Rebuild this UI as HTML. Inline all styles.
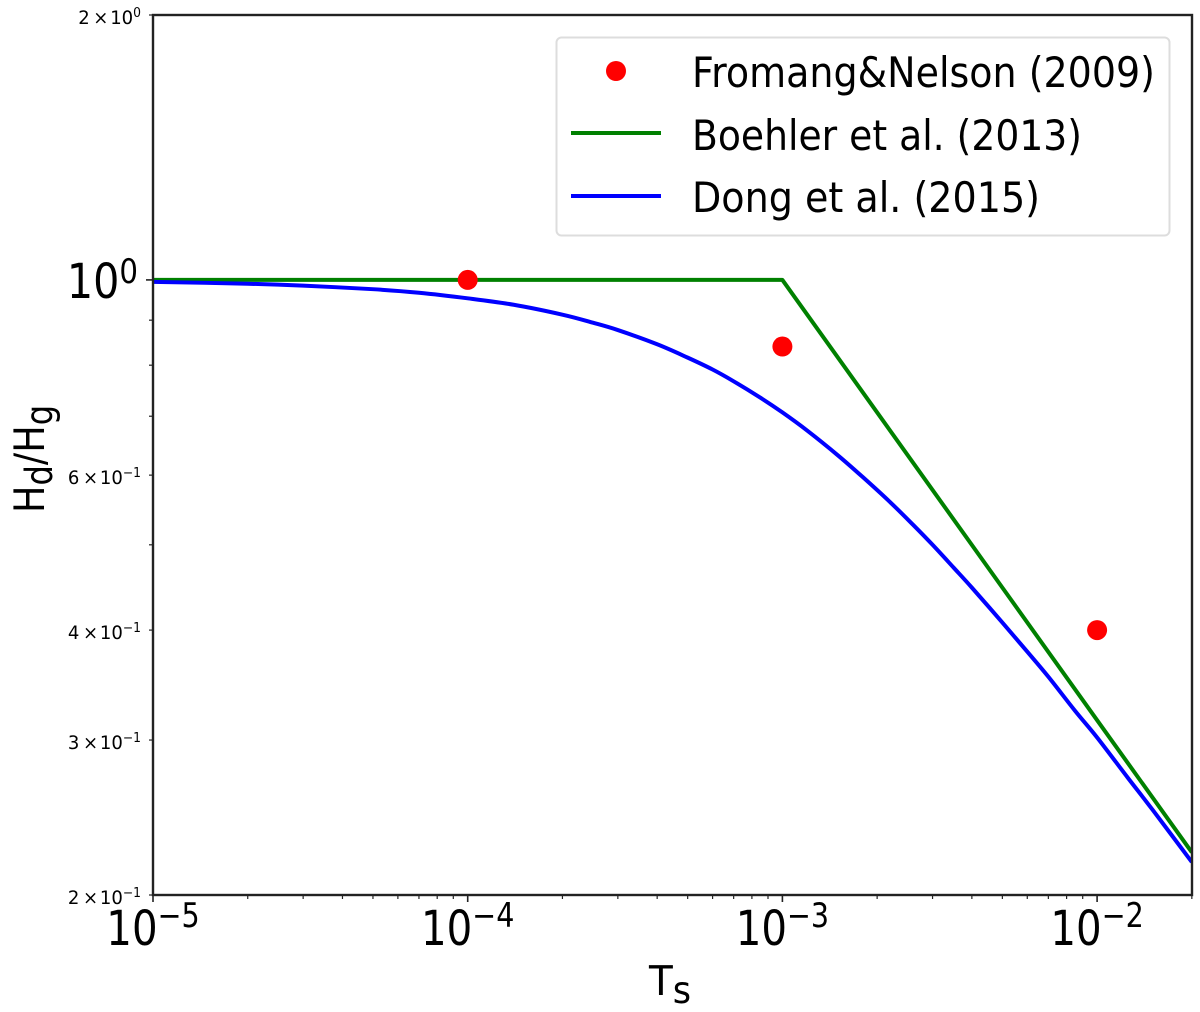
<!DOCTYPE html>
<html lang="en">
<head>
<meta charset="utf-8">
<title>Dust scale height ratio versus stopping time</title>
<style>
html,body{margin:0;padding:0;background:#fff;width:1200px;height:1012px;overflow:hidden}
svg{display:block}
text{font-family:"DejaVu Sans","Liberation Sans",sans-serif;fill:#000}
</style>
</head>
<body>
<svg id="chart" xmlns="http://www.w3.org/2000/svg" width="1200" height="1012" viewBox="0 0 1200 1012">
  <defs><clipPath id="plot-clip"><rect x="153" y="15" width="1039" height="880"/></clipPath></defs>
  <rect x="153" y="15" width="1039" height="880" fill="#fff"/>
  <g id="series-layer" clip-path="url(#plot-clip)"></g>
  <rect x="153" y="15" width="1039" height="880" fill="none" stroke="#222" stroke-width="2.4"/>
  <g id="tick-layer"></g>
  <g id="label-layer"></g>

  <text transform="translate(649 995) scale(.95 1)" font-size="41">T<tspan font-size="37" dy="8">s</tspan></text>
  <text transform="translate(44 513) rotate(-90) scale(.87 1)" font-size="42">H<tspan font-size="37" dy="8">d</tspan><tspan dy="-8">/H</tspan><tspan font-size="37" dy="8">g</tspan></text>

  <g>
    <rect x="556.5" y="37.5" width="613" height="198" rx="5" fill="#fff" fill-opacity=".9" stroke="#ddd" stroke-width="2"/>
    <circle cx="616" cy="71" r="10" fill="#ff0000"/>
    <text x="692" y="87" font-size="42" textLength="463" lengthAdjust="spacingAndGlyphs">Fromang&amp;Nelson (2009)</text>
    <line x1="571" x2="661" y1="133" y2="133" stroke="#008000" stroke-width="4"/>
    <text x="692" y="150" font-size="42" textLength="390" lengthAdjust="spacingAndGlyphs">Boehler et al. (2013)</text>
    <line x1="571" x2="661" y1="196" y2="196" stroke="#0000ff" stroke-width="4"/>
    <text x="692" y="212" font-size="42" textLength="348" lengthAdjust="spacingAndGlyphs">Dong et al. (2015)</text>
  </g>
</svg>
<script>
// Chart data
const fromangTs = [1e-4, 1e-3, 1e-2];
const fromangHeight = [1, 0.84, 0.4];
const boehlerTs = [1e-5, 1e-4, 1e-3, 2e-3, 5e-3, 1e-2, 2e-2];
const boehlerHeight = [1, 1, 1, 0.707, 0.447, 0.316, 0.2236];
const dongTs = [1e-5, 2e-5, 3e-5, 5e-5, 7e-5, 1e-4, 1.4e-4, 2e-4, 2.5e-4, 3e-4, 4e-4, 5e-4, 6e-4, 7e-4, 8.5e-4, 1e-3, 1.2e-3, 1.5e-3, 1.8e-3, 2.2e-3, 2.6e-3, 3e-3, 3.5e-3, 4e-3, 5e-3, 6e-3, 7e-3, 8.5e-3, 1e-2, 1.25e-2, 1.5e-2, 2e-2];
const dongHeight = [0.995, 0.990, 0.985, 0.976, 0.967, 0.953, 0.937, 0.913, 0.894, 0.877, 0.845, 0.816, 0.791, 0.767, 0.735, 0.707, 0.674, 0.632, 0.597, 0.559, 0.527, 0.5, 0.471, 0.447, 0.408, 0.378, 0.354, 0.324, 0.302, 0.272, 0.25, 0.218];
const xMajorExponents = [-5, -4, -3, -2];
const yMinorTicks = [0.9, 0.8, 0.7, 0.5];
const yLabelMantissas = [2, 6, 4, 3, 2];
const yLabelExponents = [0, -1, -1, -1, -1];
const yMajorLabelValue = 1;
const xLimits = [1e-5, 2e-2];
const yLimits = [0.2, 2];

const NS = 'http://www.w3.org/2000/svg';
const plot = {left: 153, right: 1192, top: 15, bottom: 895};
const xPixelsPerDecade = 314.7;
const xScale = v => plot.left + (Math.log10(v) - Math.log10(xLimits[0])) * xPixelsPerDecade;
const yScale = v => plot.bottom - (Math.log10(v) - Math.log10(yLimits[0])) / (Math.log10(yLimits[1]) - Math.log10(yLimits[0])) * (plot.bottom - plot.top);

const seriesLayer = document.getElementById('series-layer');
const tickLayer = document.getElementById('tick-layer');
const labelLayer = document.getElementById('label-layer');

function svgEl(tag, attrs, parent) {
  const el = document.createElementNS(NS, tag);
  for (const k in attrs) el.setAttribute(k, attrs[k]);
  parent.appendChild(el);
  return el;
}
function pathFrom(xs, ys) {
  return xs.map((x, i) => (i ? 'L' : 'M') + xScale(x).toFixed(2) + ' ' + yScale(ys[i]).toFixed(2)).join(' ');
}
// Smooth path through the data points (Catmull-Rom to Bezier)
function smoothPathFrom(xs, ys) {
  const pts = xs.map((x, i) => [xScale(x), yScale(ys[i])]);
  let d = 'M' + pts[0][0].toFixed(2) + ' ' + pts[0][1].toFixed(2);
  for (let i = 0; i < pts.length - 1; i++) {
    const p0 = pts[Math.max(i - 1, 0)];
    const p1 = pts[i];
    const p2 = pts[i + 1];
    const p3 = pts[Math.min(i + 2, pts.length - 1)];
    const c1x = p1[0] + (p2[0] - p0[0]) / 6;
    const c1y = p1[1] + (p2[1] - p0[1]) / 6;
    const c2x = p2[0] - (p3[0] - p1[0]) / 6;
    const c2y = p2[1] - (p3[1] - p1[1]) / 6;
    d += ' C' + c1x.toFixed(2) + ' ' + c1y.toFixed(2) + ' ' + c2x.toFixed(2) + ' ' + c2y.toFixed(2) + ' ' + p2[0].toFixed(2) + ' ' + p2[1].toFixed(2);
  }
  return d;
}
function powerLabel(parent, prefix, exponent, x, y, size, supSize, rise, sx, anchor) {
  const t = svgEl('text', {transform: 'translate(' + x + ' ' + y + ') scale(' + sx + ' 1)', 'font-size': size, 'text-anchor': anchor}, parent);
  const base = svgEl('tspan', {}, t);
  base.textContent = prefix + '10';
  const sup = svgEl('tspan', {'font-size': supSize, dy: -rise}, t);
  sup.textContent = String(exponent).replace('-', '\u2212');
  return t;
}

// Series
const boehlerLine = svgEl('path', {d: pathFrom(boehlerTs, boehlerHeight), fill: 'none', stroke: '#008000', 'stroke-width': 4, 'stroke-linejoin': 'round'}, seriesLayer);


const dongLine = svgEl('path', {d: smoothPathFrom(dongTs, dongHeight), fill: 'none', stroke: '#0000ff', 'stroke-width': 4, 'stroke-linejoin': 'round'}, seriesLayer);


fromangTs.forEach((ts, i) => {
  const dot = svgEl('circle', {cx: xScale(ts), cy: yScale(fromangHeight[i]), r: 10, fill: '#ff0000'}, seriesLayer);
  
  
});

// X ticks and labels
xMajorExponents.forEach(exp => {
  const value = Math.pow(10, exp);
  const px = xScale(value);
  const tick = svgEl('line', {x1: px, x2: px, y1: plot.bottom, y2: plot.bottom + 7, stroke: '#222', 'stroke-width': 1.6}, tickLayer);
  
  
  const label = powerLabel(labelLayer, '', exp, px, 945, 48, 34, 18, 0.84, 'middle');
  
  
  for (let m = 2; m <= 9; m++) {
    const mv = m * value;
    if (mv > xLimits[1]) break;
    const mpx = xScale(mv);
    const minor = svgEl('line', {x1: mpx, x2: mpx, y1: plot.bottom, y2: plot.bottom + 4, stroke: '#222', 'stroke-width': 1.2}, tickLayer);
    
    
  }
});

// Y ticks and labels
const unitTick = svgEl('line', {x1: plot.left - 7, x2: plot.left, y1: yScale(yMajorLabelValue), y2: yScale(yMajorLabelValue), stroke: '#222', 'stroke-width': 1.6}, tickLayer);


const unitLabel = powerLabel(labelLayer, '', 0, 138, yScale(yMajorLabelValue) + 18, 48, 34, 15, 0.86, 'end');



yMinorTicks.forEach(v => {
  const py = yScale(v);
  const minor = svgEl('line', {x1: plot.left - 4, x2: plot.left, y1: py, y2: py, stroke: '#222', 'stroke-width': 1.2}, tickLayer);
  
  
});
yLabelMantissas.forEach((m, i) => {
  const v = m * Math.pow(10, yLabelExponents[i]);
  const py = yScale(v);
  const tick = svgEl('line', {x1: plot.left - 4, x2: plot.left, y1: py, y2: py, stroke: '#222', 'stroke-width': 1.2}, tickLayer);
  
  
  const label = powerLabel(labelLayer, m + '\u2009\u00d7\u200a', yLabelExponents[i], 141, py + 9, 19, 13, 7, 0.95, 'end');
  
  
});
</script>
</body>
</html>
